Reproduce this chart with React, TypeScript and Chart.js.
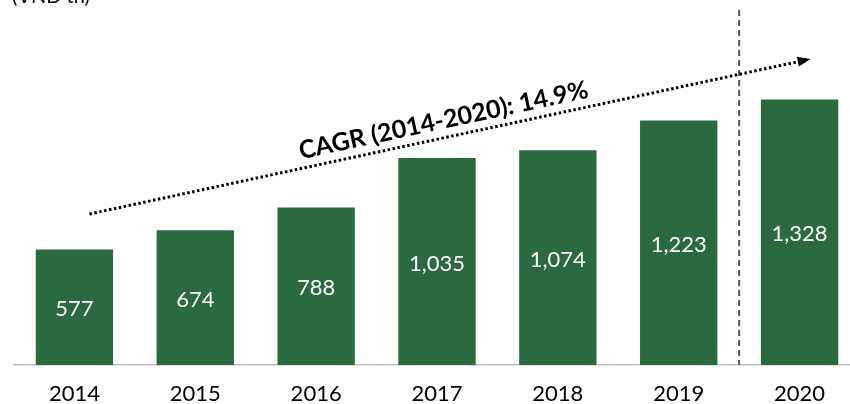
import React, { useEffect, useRef } from "react";
import { Chart, registerables } from "chart.js";
Chart.register(...registerables);

const years = ["2014", "2015", "2016", "2017", "2018", "2019", "2020"];
const values = [577, 674, 788, 1035, 1074, 1223, 1328];
const unitLabel = "(VND tn)";
const cagrLabel = "CAGR (2014-2020): 14.9%";
const arrowStartValue = 755;
const arrowEndValue = 1530;

const GREEN = "#2a6a3e";
const FONT = "Lato, 'Open Sans', sans-serif";

const overlay = {
  id: "overlay",
  afterDatasetsDraw(chart: any) {
    const ctx = chart.ctx;
    const xs = chart.scales.x;
    const ys = chart.scales.y;
    const area = chart.chartArea;
    const meta = chart.getDatasetMeta(0);
    ctx.save();
    // data labels
    ctx.fillStyle = "#ffffff";
    ctx.font = `22px ${FONT}`;
    ctx.textAlign = "center";
    ctx.textBaseline = "middle";
    meta.data.forEach((bar: any, i: number) => {
      const y = (bar.y + bar.base) / 2 + 2;
      ctx.fillText(values[i].toLocaleString("en-US"), bar.x, y);
    });
    // dashed vertical separator between last two categories
    const sepX = (xs.getPixelForValue(years.length - 2) + xs.getPixelForValue(years.length - 1)) / 2;
    ctx.strokeStyle = "#555555";
    ctx.lineWidth = 2;
    ctx.setLineDash([6, 4]);
    ctx.beginPath();
    ctx.moveTo(sepX, 10);
    ctx.lineTo(sepX, area.bottom);
    ctx.stroke();
    // dotted arrow
    const x0 = xs.getPixelForValue(0) + 15;
    const x1 = xs.getPixelForValue(years.length - 1) + 11;
    const y0 = ys.getPixelForValue(arrowStartValue);
    const y1 = ys.getPixelForValue(arrowEndValue);
    const ang = Math.atan2(y1 - y0, x1 - x0);
    const headLen = 13;
    const hx = x1 - headLen * Math.cos(ang);
    const hy = y1 - headLen * Math.sin(ang);
    ctx.strokeStyle = "#000000";
    ctx.lineWidth = 3;
    ctx.setLineDash([2.5, 2.5]);
    ctx.beginPath();
    ctx.moveTo(x0, y0);
    ctx.lineTo(hx, hy);
    ctx.stroke();
    ctx.setLineDash([]);
    ctx.fillStyle = "#000000";
    ctx.beginPath();
    ctx.moveTo(x1, y1);
    ctx.lineTo(hx + 5 * Math.sin(ang), hy - 5 * Math.cos(ang));
    ctx.lineTo(hx - 5 * Math.sin(ang), hy + 5 * Math.cos(ang));
    ctx.closePath();
    ctx.fill();
    // CAGR text
    const mx = (x0 + x1) / 2;
    const my = (y0 + y1) / 2;
    ctx.translate(mx, my);
    ctx.rotate(ang);
    ctx.font = `bold 25px ${FONT}`;
    ctx.textAlign = "center";
    ctx.textBaseline = "alphabetic";
    ctx.fillText(cagrLabel, -3, -9);
    ctx.restore();
    // unit label
    ctx.save();
    ctx.fillStyle = "#000000";
    ctx.font = `20px ${FONT}`;
    ctx.textAlign = "left";
    ctx.textBaseline = "alphabetic";
    ctx.fillText(unitLabel, 12, 3);
    ctx.restore();
  },
};

export default function App() {
  const ref = useRef<HTMLCanvasElement>(null);
  useEffect(() => {
    document.body.style.margin = "0";
    document.body.style.overflow = "hidden";
    const chart = new Chart(ref.current!, {
      type: "bar",
      data: {
        labels: years,
        datasets: [
          {
            data: values,
            backgroundColor: GREEN,
            borderWidth: 0,
            barPercentage: 0.64,
            categoryPercentage: 1,
          },
        ],
      },
      options: {
        responsive: false,
        animation: false,
        layout: { padding: { left: 14, right: 0, top: 0, bottom: 0 } },
        plugins: { legend: { display: false }, tooltip: { enabled: false } },
        scales: {
          x: {
            grid: { display: false },
            border: { display: true, color: "#bfbfbf", width: 1.5 },
            ticks: { color: "#000000", font: { family: FONT, size: 22 }, padding: 8, maxRotation: 0 },
            afterFit(scale: any) {
              scale.height = 39;
            },
          },
          y: { display: false, min: 0, max: 1825 },
        },
      },
      plugins: [overlay],
    });
    return () => chart.destroy();
  }, []);
  return (
    <div style={{ position: "fixed", left: 0, top: 0, width: 860, height: 404, background: "#fff" }}>
      <canvas ref={ref} width={860} height={404} />
    </div>
  );
}
